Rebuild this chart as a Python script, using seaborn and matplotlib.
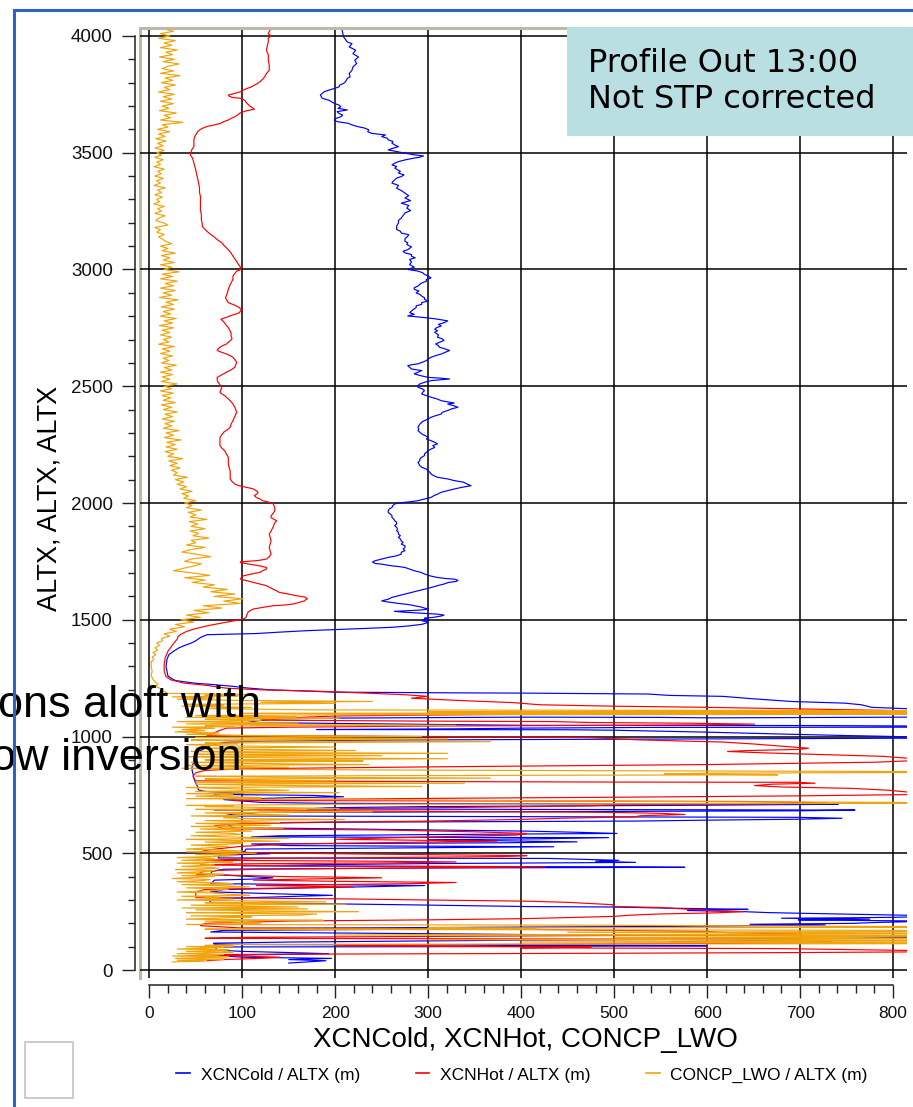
import numpy as np
import pandas as pd
import seaborn as sns
import matplotlib
matplotlib.use("Agg")
import matplotlib.pyplot as plt
from matplotlib.lines import Line2D
from matplotlib.patches import Rectangle
from matplotlib.ticker import MultipleLocator

# ---------------- data (altitude m, value) ----------------
cold_upper = [(4031,207),(3996,209),(3974,213),(3967,218),(3953,215),(3939,222),(3924,219),(3910,225),(3896,221),(3882,223),(3867,219),(3853,218),(3839,215),(3825,216),(3818,213),(3804,211),(3797,209),(3790,205),(3782,204),(3775,199),(3768,193),(3761,188),(3754,186),(3747,184),(3740,185),(3733,186),(3725,193),(3718,196),(3711,199),(3704,204),(3697,206),(3690,203),(3683,213),(3676,202),(3668,204),(3661,208),(3654,206),(3647,201),(3640,199),(3633,202),(3626,214),(3619,218),(3612,224),(3605,232),(3598,236),(3590,235),(3583,239),(3576,254),(3569,250),(3562,256),(3555,257),(3548,262),(3541,261),(3533,264),(3526,268),(3519,262),(3512,257),(3505,266),(3498,275),(3491,285),(3486,295),(3480,290),(3477,285),(3469,275),(3462,268),(3455,264),(3448,261),(3441,266),(3434,264),(3420,270),(3413,268),(3405,274),(3398,271),(3391,266),(3384,264),(3377,262),(3370,261),(3360,268),(3348,266),(3338,271),(3327,275),(3316,279),(3306,275),(3295,281),(3284,271),(3274,279),(3263,277),(3252,281),(3242,275),(3231,273),(3220,271),(3210,268),(3199,268),(3185,266),(3171,266),(3164,270),(3156,271),(3149,279),(3142,278),(3132,275),(3121,275),(3114,278),(3107,277),(3096,282),(3085,278),(3078,273),(3071,275),(3064,282),(3057,282),(3050,286),(3043,280),(3032,282),(3021,280),(3010,285),(3000,278),(2993,289),(2986,294),(2979,296),(2972,300),(2964,303),(2957,298),(2950,298),(2940,292),(2929,289),(2922,285),(2915,285),(2908,290),(2900,287),(2893,291),(2886,293),(2879,296),(2872,296),(2865,300),(2858,293),(2851,293),(2844,287),(2836,287),(2829,284),(2822,282),(2815,280),(2808,285),(2801,278),(2794,296),(2789,307),(2787,310),(2780,321),(2772,317),(2765,311),(2758,314),(2751,309),(2744,307),(2738,310),(2731,307),(2720,311),(2710,310),(2703,315),(2696,317),(2688,312),(2681,308),(2674,311),(2667,312),(2660,318),(2653,323),(2645,318),(2638,314),(2631,308),(2624,303),(2617,300),(2610,298),(2603,294),(2596,289),(2592,282),(2588,278),(2581,280),(2574,282),(2570,288),(2567,293),(2560,289),(2553,285),(2545,292),(2538,300),(2534,315),(2531,323),(2527,312),(2524,303),(2517,296),(2510,291),(2503,289),(2496,289),(2488,294),(2481,296),(2474,294),(2467,293),(2460,298),(2453,303),(2445,310),(2438,314),(2431,324),(2428,328),(2424,321),(2417,327),(2410,332),(2403,325),(2396,321),(2388,315),(2381,314),(2374,308),(2367,303),(2360,300),(2353,296),(2346,293),(2338,291),(2331,290),(2324,289),(2317,290),(2310,289),(2303,291),(2296,293),(2288,297),(2281,300),(2274,298),(2267,303),(2260,307),(2253,310),(2246,305),(2238,307),(2231,303),(2224,300),(2217,298),(2210,296),(2203,296),(2196,293),(2188,291),(2181,291),(2174,289),(2167,290),(2160,291),(2153,293),(2145,298),(2138,300),(2131,302),(2124,303),(2117,306),(2110,310),(2103,321),(2096,328),(2089,338),(2081,342),(2074,346),(2067,336),(2060,328),(2053,321),(2046,314),(2038,310),(2031,306),(2024,303),(2017,296),(2010,289),(2006,282),(2003,275),(2000,268),(1996,264),(1989,262),(1981,261),(1974,258),(1967,257),(1960,257),(1953,259),(1946,261),(1938,261),(1931,263),(1924,264),(1917,266),(1910,266),(1903,264),(1896,266),(1888,267),(1881,266),(1874,268),(1867,268),(1860,270),(1853,268),(1846,270),(1838,271),(1831,273),(1824,271),(1817,275),(1810,275),(1803,273),(1796,275),(1789,271),(1781,271),(1774,266),(1767,257),(1760,250),(1753,243),(1747,240),(1741,243),(1738,250),(1735,255),(1731,261),(1728,268),(1724,275),(1717,280),(1710,285),(1703,292),(1696,296),(1688,302),(1681,310),(1677,318),(1674,328),(1669,332),(1664,330),(1660,322),(1653,317),(1646,310),(1638,303),(1631,296),(1624,289),(1617,282),(1610,275),(1603,268),(1596,261),(1588,257),(1581,250),(1577,255),(1574,261),(1570,268),(1567,275),(1563,282),(1560,285),(1556,291),(1550,296),(1546,300),(1543,295),(1541,289),(1538,275),(1536,264),(1533,272),(1530,285),(1527,300),(1524,310),(1520,317),(1516,314),(1510,305),(1507,296),(1503,298),(1500,296),(1496,293),(1492,298),(1488,300),(1484,296),(1481,294),(1474,280),(1468,262),(1464,239),(1458,200),(1453,168),(1447,140),(1441,115),(1436,62),(1424,55)]

cold_lower = [(1410,50),(1400,45),(1390,38),(1380,32),(1365,26),(1350,21),(1330,19),(1300,18),(1280,19),(1260,20),(1248,24),(1240,28),(1233,40),(1228,50),(1222,70),(1215,90),(1208,105),(1200,130),(1196,160),(1190,200),(1187,330),(1186,400),(1182,536),(1176,560),(1172,617),(1162,648),(1150,691),(1143,748),(1136,766),(1125,777),(1119,813),(1117,830),(1110,830),(1083,816),(1081,664),(1080,606),(1082,547),(1083,428),(1083,399),(1079,204),(1075,133),(1070,120),(1060,105),(1048,400),(1047,711),(1045,830),(1040,816),(1039,532),(1036,400),(1033,330),(1030,180),(1029,450),(1027,500),(1019,597),(1010,687),(1004,752),(1000,804),(993,830),(990,600),(985,250),(980,120),(975,80),(971,76),(964,67),(950,60),(930,51),(910,48),(893,48),(870,46),(857,46),(840,47),(821,48),(800,50),(785,52),(771,53),(765,60),(757,101),(752,70),(748,176),(742,209),(738,150),(730,80),(718,120),(714,190),(711,558),(710,741),(706,600),(700,300),(695,190),(690,170),(686,612),(685,759),(682,700),(678,400),(675,117),(671,108),(668,90),(660,80),(654,698),(650,745),(646,700),(642,601),(638,525),(633,200),(628,101),(620,85),(610,90),(595,406),(590,460),(585,503),(580,300),(575,140),(570,110),(567,494),(562,420),(558,300),(549,460),(545,380),(540,110),(533,150),(528,435),(524,300),(518,104),(510,103),(505,100),(498,130),(492,76),(480,74),(478,430),(470,505),(466,480),(461,523),(456,300),(452,200),(446,100),(442,514),(440,576),(437,300),(432,80),(425,71),(421,67),(410,66),(395,133),(390,115),(385,70),(370,66),(362,296),(358,250),(352,170),(345,80),(335,66),(325,150),(320,197),(316,160),(305,66),(290,65),(280,268),(272,406),(270,498),(265,560),(260,644),(258,600),(255,579),(250,640),(246,666),(242,716),(235,816),(233,830),(228,830),(226,802),(224,756),(222,680),(218,775),(215,698),(213,745),(210,830),(207,816),(204,784),(200,756),(196,646),(193,727),(190,648),(187,563),(184,400),(181,250),(178,100),(177,415),(175,300),(170,80),(163,66),(150,475),(149,639),(146,784),(144,830),(140,816),(136,749),(132,600),(128,400),(120,150),(115,69),(110,70),(106,399),(106,478),(104,599),(100,300),(99,71),(90,72),(85,73),(80,100),(75,150),(70,193),(66,120),(62,75),(55,100),(50,196),(45,150),(40,190),(35,170),(30,150)]

hot_upper = [(4031,131),(4020,129),(4010,128),(4000,131),(3990,128),(3974,128),(3960,127),(3939,126),(3920,128),(3896,128),(3875,129),(3853,129),(3839,126),(3825,124),(3815,122),(3804,119),(3795,116),(3789,113),(3782,110),(3775,105),(3768,101),(3761,98),(3754,92),(3747,85),(3742,86),(3737,89),(3733,98),(3728,101),(3723,103),(3717,104),(3711,105),(3705,107),(3700,108),(3693,111),(3686,113),(3680,105),(3671,98),(3662,95),(3654,92),(3647,88),(3640,85),(3633,80),(3626,77),(3619,70),(3612,62),(3606,58),(3600,55),(3590,52),(3583,51),(3570,49),(3555,48),(3540,48),(3526,48),(3515,46),(3505,45),(3491,44),(3480,46),(3470,47),(3455,48),(3440,49),(3425,50),(3405,51),(3390,52),(3370,53),(3350,54),(3330,54),(3313,55),(3290,55),(3270,55),(3256,55),(3235,56),(3213,56),(3195,57),(3185,57),(3175,59),(3164,62),(3153,65),(3142,69),(3128,73),(3114,78),(3100,81),(3085,85),(3070,88),(3057,90),(3040,93),(3021,96),(3010,98),(3003,99),(2997,97),(2993,94),(2983,92),(2972,90),(2960,90),(2950,89),(2935,87),(2915,85),(2900,84),(2890,83),(2879,82),(2870,83),(2858,85),(2850,90),(2843,94),(2836,97),(2829,99),(2822,98),(2815,97),(2808,92),(2801,87),(2794,82),(2787,77),(2776,80),(2765,82),(2751,85),(2737,87),(2725,88),(2715,88),(2703,89),(2695,87),(2688,85),(2681,83),(2674,79),(2667,76),(2660,74),(2653,73),(2645,78),(2638,83),(2631,87),(2624,90),(2614,92),(2603,94),(2592,93),(2581,92),(2570,88),(2560,83),(2549,78),(2538,73),(2528,73),(2517,74),(2506,76),(2496,78),(2485,77),(2474,76),(2467,78),(2460,81),(2449,84),(2438,87),(2424,90),(2410,92),(2399,93),(2388,94),(2370,92),(2353,90),(2338,88),(2324,87),(2314,84),(2303,80),(2292,78),(2281,76),(2265,76),(2246,76),(2235,78),(2224,81),(2210,83),(2196,85),(2180,85),(2167,85),(2150,86),(2138,87),(2120,87),(2103,87),(2092,89),(2081,92),(2075,96),(2070,101),(2065,107),(2060,112),(2053,115),(2046,117),(2040,116),(2032,113),(2024,115),(2017,119),(2010,122),(2004,128),(1998,133),(1990,134),(1980,135),(1967,135),(1955,133),(1945,131),(1938,131),(1930,134),(1924,137),(1915,135),(1905,134),(1896,133),(1880,131),(1867,129),(1852,130),(1838,131),(1824,130),(1810,129),(1795,130),(1781,131),(1770,129),(1760,126),(1755,119),(1752,112),(1750,105),(1748,98),(1745,98),(1740,105),(1735,112),(1731,119),(1724,126),(1717,126),(1710,122),(1703,119),(1696,110),(1688,101),(1681,99),(1674,98),(1667,105),(1660,112),(1653,119),(1646,126),(1638,130),(1631,133),(1624,137),(1617,140),(1610,150),(1603,158),(1599,165),(1596,168),(1590,170),(1585,168),(1581,167),(1574,161),(1567,154),(1563,145),(1560,133),(1553,122),(1546,112),(1538,108),(1531,106),(1520,105),(1510,104),(1503,101),(1495,90),(1488,80),(1480,70),(1474,62),(1467,55),(1460,48),(1450,40),(1438,34),(1428,31),(1417,30)]

hot_lower = [(1393,25),(1365,20),(1336,17),(1308,16),(1279,16),(1257,18),(1243,23),(1236,30),(1229,37),(1224,50),(1219,62),(1213,72),(1207,83),(1200,120),(1193,190),(1185,240),(1179,275),(1172,300),(1164,282),(1155,330),(1145,392),(1136,420),(1130,500),(1125,600),(1118,700),(1112,790),(1108,830),(1104,816),(1100,650),(1096,411),(1092,300),(1088,200),(1080,150),(1070,120),(1066,300),(1064,435),(1060,475),(1057,582),(1053,651),(1050,600),(1047,450),(1045,300),(1040,150),(1036,83),(1025,75),(1014,69),(1005,62),(1000,300),(998,413),(995,475),(986,525),(976,619),(968,650),(953,698),(950,709),(945,700),(940,644),(936,622),(930,662),(922,730),(915,790),(907,816),(905,830),(898,830),(890,780),(880,600),(870,300),(862,100),(855,60),(845,50),(830,47),(821,48),(810,50),(805,500),(804,698),(800,716),(796,670),(790,651),(784,679),(778,756),(770,795),(762,816),(757,830),(752,830),(746,700),(740,500),(735,300),(730,150),(726,90),(724,400),(722,633),(720,672),(716,730),(712,672),(708,500),(704,478),(700,414),(695,300),(690,150),(685,70),(680,300),(676,471),(674,514),(671,550),(666,576),(661,529),(656,521),(650,442),(645,399),(638,300),(632,150),(625,90),(618,70),(605,80),(600,250),(592,350),(585,406),(578,395),(570,300),(560,200),(552,374),(548,300),(540,150),(530,100),(520,75),(512,60),(506,55),(498,200),(494,300),(490,406),(486,380),(482,260),(478,120),(470,60),(466,250),(463,330),(459,260),(455,100),(450,55),(445,200),(442,426),(438,300),(432,120),(425,60),(410,51),(400,150),(398,204),(395,250),(390,170),(385,112),(380,200),(375,330),(370,280),(362,115),(356,220),(350,120),(345,60),(335,50),(310,50),(305,204),(300,300),(295,406),(290,450),(280,498),(272,500),(268,550),(262,572),(256,601),(250,639),(245,610),(240,547),(235,518),(230,500),(225,453),(220,400),(215,300),(210,150),(200,60),(190,55),(180,100),(175,400),(170,495),(168,547),(165,600),(160,624),(156,696),(152,650),(148,500),(144,300),(140,100),(136,60),(132,590),(130,698),(126,650),(122,561),(120,734),(116,700),(112,500),(108,300),(104,200),(100,399),(98,475),(95,400),(92,676),(88,750),(84,816),(82,830),(78,830),(75,700),(72,500),(70,300),(68,140),(66,62),(60,100),(55,140),(50,120),(45,80),(40,62)]

lwo_upper = [(4030,15),(4020,26),(4010,12),(4000,22),(3990,10),(3980,28),(3970,16),(3960,24),(3950,12),(3940,30),(3930,18),(3920,25),(3910,11),(3900,27),(3890,15),(3880,32),(3870,20),(3860,14),(3850,26),(3840,12),(3830,33),(3820,17),(3810,25),(3800,13),(3790,28),(3780,16),(3770,22),(3760,10),(3750,27),(3740,15),(3730,24),(3720,12),(3710,26),(3700,14),(3690,21),(3680,11),(3670,29),(3660,16),(3650,23),(3640,12),(3630,36),(3620,14),(3610,20),(3600,9),(3590,22),(3580,10),(3570,17),(3560,7),(3550,18),(3540,9),(3530,15),(3520,6),(3510,16),(3500,8),(3490,13),(3480,6),(3470,15),(3460,8),(3450,12),(3440,5),(3430,16),(3420,9),(3410,13),(3400,6),(3390,15),(3380,8),(3370,12),(3360,5),(3350,17),(3340,9),(3330,13),(3320,6),(3310,14),(3300,8),(3290,11),(3280,5),(3270,16),(3260,9),(3250,13),(3240,6),(3230,17),(3220,10),(3210,7),(3200,15),(3190,20),(3180,6),(3170,12),(3160,8),(3150,16),(3140,10),(3130,14),(3120,18),(3110,24),(3100,12),(3090,20),(3080,14),(3070,28),(3060,13),(3050,22),(3040,15),(3030,27),(3020,12),(3010,24),(3000,16),(2990,32),(2980,14),(2970,25),(2960,12),(2950,30),(2940,17),(2930,26),(2920,12),(2910,28),(2900,15),(2890,24),(2880,11),(2870,31),(2860,18),(2850,26),(2840,13),(2830,27),(2820,15),(2810,23),(2800,12),(2790,29),(2780,16),(2770,25),(2760,11),(2750,26),(2740,14),(2730,22),(2720,12),(2710,24),(2700,15),(2690,21),(2680,10),(2670,27),(2660,14),(2650,22),(2640,12),(2630,25),(2620,15),(2610,21),(2600,13),(2590,29),(2580,16),(2570,24),(2560,12),(2550,25),(2540,14),(2530,22),(2520,13),(2510,30),(2500,16),(2490,24),(2480,12),(2470,26),(2460,14),(2450,23),(2440,15),(2430,28),(2420,13),(2410,24),(2400,15),(2390,30),(2380,17),(2370,25),(2360,14),(2350,27),(2340,17),(2330,24),(2320,15),(2310,32),(2300,18),(2290,26),(2280,16),(2270,34),(2260,19),(2250,28),(2240,18),(2230,30),(2220,17),(2210,26),(2200,20),(2190,36),(2180,21),(2170,30),(2160,22),(2150,33),(2140,24),(2130,30),(2120,26),(2110,41),(2100,28),(2090,37),(2080,30),(2070,40),(2060,33),(2050,46),(2040,35),(2030,42),(2020,37),(2010,50),(2000,38),(1990,46),(1980,40),(1970,56),(1960,42),(1950,50),(1940,44),(1930,62),(1920,43),(1910,52),(1900,45),(1890,60),(1880,44),(1870,53),(1860,47),(1850,64),(1840,45),(1830,50),(1820,40),(1810,60),(1800,44),(1790,35),(1780,52),(1770,66),(1760,45),(1750,38),(1740,56),(1730,48),(1720,36),(1710,26),(1700,48),(1690,65),(1680,38),(1670,60),(1660,46),(1650,70),(1640,58),(1630,84),(1620,66),(1610,92),(1600,70),(1590,101),(1580,80),(1570,98),(1560,58),(1550,78),(1540,48),(1530,64),(1520,40),(1510,55),(1500,34),(1490,48),(1480,28),(1470,38),(1460,22),(1450,29),(1440,16),(1430,22),(1420,13),(1410,14),(1400,8),(1390,11),(1380,6),(1370,9),(1360,4),(1350,7),(1340,3),(1330,5),(1320,2),(1300,2),(1280,3),(1260,2),(1245,4),(1235,6),(1225,9),(1215,7),(1205,12),(1195,15)]

lwo_lower = [(1185,20),(1180,108),(1177,60),(1174,95),(1170,25),(1165,70),(1160,30),(1155,90),(1150,240),(1147,120),(1142,200),(1138,40),(1134,80),(1130,35),(1125,110),(1120,60),(1114,180),(1111,830),(1109,830),(1106,300),(1104,830),(1102,830),(1099,100),(1097,830),(1095,830),(1093,200),(1090,50),(1087,90),(1085,158),(1082,40),(1078,204),(1074,60),(1071,100),(1068,120),(1064,30),(1061,80),(1058,160),(1054,40),(1051,120),(1048,330),(1045,60),(1042,90),(1040,25),(1035,70),(1030,35),(1025,60),(1020,28),(1015,75),(1010,40),(1005,90),(1000,293),(996,50),(993,110),(990,321),(985,45),(981,100),(978,367),(972,60),(968,95),(965,40),(960,80),(955,200),(950,50),(945,100),(940,222),(936,45),(932,90),(928,321),(924,50),(921,110),(918,250),(914,40),(910,85),(905,321),(900,60),(897,120),(895,230),(890,45),(885,100),(880,236),(876,40),(872,90),(868,150),(864,35),(860,80),(856,300),(853,540),(850,830),(846,816),(843,600),(840,554),(836,676),(834,400),(830,50),(826,120),(822,367),(818,60),(814,110),(810,200),(806,50),(803,100),(800,339),(796,50),(791,120),(786,293),(782,40),(776,90),(770,150),(765,50),(762,110),(760,204),(756,40),(753,80),(750,90),(745,50),(741,100),(738,120),(734,40),(731,140),(728,300),(724,457),(721,600),(718,802),(716,830),(714,816),(712,500),(710,200),(707,100),(705,40),(702,90),(700,60),(696,130),(692,204),(688,50),(685,100),(682,120),(678,240),(673,60),(668,110),(664,150),(660,45),(656,95),(652,80),(648,120),(645,210),(640,60),(636,100),(632,140),(628,50),(624,90),(620,130),(615,45),(611,95),(608,144),(604,55),(600,85),(595,110),(590,50),(585,90),(580,100),(575,45),(569,95),(564,150),(560,40),(556,80),(552,140),(548,60),(544,100),(540,90),(535,45),(530,85),(525,70),(518,40),(514,75),(510,100),(506,40),(503,80),(500,115),(495,50),(491,95),(488,85),(482,30),(479,65),(476,70),(470,35),(466,75),(462,90),(458,30),(454,60),(450,70),(444,35),(440,65),(436,75),(430,28),(426,70),(422,60),(416,30),(413,65),(410,80),(404,35),(401,70),(398,55),(392,25),(388,65),(384,60),(378,30),(374,75),(370,90),(366,35),(361,80),(356,108),(352,40),(346,85),(340,70),(334,30),(330,70),(326,80),(320,108),(316,35),(312,75),(308,60),(304,90),(300,30),(296,110),(292,190),(288,60),(285,120),(282,211),(278,45),(274,90),(270,160),(266,35),(262,170),(258,50),(254,110),(250,225),(246,40),(243,100),(240,180),(235,160),(232,45),(228,110),(225,90),(218,40),(215,120),(213,187),(210,60),(205,90),(200,120),(195,40),(192,495),(190,590),(186,830),(183,830),(180,300),(177,415),(175,60),(170,800),(168,830),(165,830),(162,450),(158,830),(155,830),(150,200),(148,830),(145,830),(140,500),(137,830),(134,830),(130,300),(127,830),(124,830),(120,400),(117,830),(113,830),(110,100),(106,60),(103,90),(100,40),(97,80),(95,70),(90,30),(87,85),(85,80),(80,40),(77,90),(75,76),(70,30),(67,80),(65,75),(60,25),(57,85),(55,70),(50,28),(47,80),(45,76),(42,30),(38,60),(35,25)]

series_names = ["XCNCold / ALTX (m)", "XCNHot / ALTX (m)", "CONCP_LWO / ALTX (m)"]
series_colors = ["#0000ff", "#ff0000", "#f0a30a"]
x_ticks = [0, 100, 200, 300, 400, 500, 600, 700, 800]
y_ticks = [0, 500, 1000, 1500, 2000, 2500, 3000, 3500, 4000]

# ---------------- build table ----------------
frames = []
for name, parts in zip(series_names, [(cold_upper, cold_lower), (hot_upper, hot_lower), (lwo_upper, lwo_lower)]):
    pts = parts[0] + parts[1]
    df = pd.DataFrame(pts, columns=["alt", "value"])
    df["series"] = name
    frames.append(df)
data = pd.concat(frames, ignore_index=True)

# ---------------- figure ----------------
W, H = 913, 1107
fig = plt.figure(figsize=(W / 100, H / 100), dpi=100, facecolor="white")

def fx(px):
    return px / W

def fy(py):
    return 1 - py / H

ax_left, ax_right, ax_top, ax_bottom = 140, 907, 28, 978
ax = fig.add_axes([fx(ax_left), fy(ax_bottom), (ax_right - ax_left) / W, (ax_bottom - ax_top) / H])
ax.set_facecolor("white")

sns.lineplot(data=data, x="value", y="alt", hue="series", hue_order=series_names,
             palette=series_colors, sort=False, estimator=None, units="series",
             linewidth=0.85, legend=False, ax=ax)

ax.set_xlim(-10, 815)
ax.set_ylim(-34, 4034)
ax.xaxis.set_minor_locator(MultipleLocator(20))
ax.yaxis.set_minor_locator(MultipleLocator(100))
ax.set_xticks(x_ticks)
ax.set_yticks(y_ticks)
ax.set_xticklabels([str(v) for v in x_ticks])
ax.set_yticklabels([str(v) for v in y_ticks])
ax.grid(True, which="major", color="black", linewidth=1.1)
ax.set_axisbelow(True)
ax.set_xlabel("")
ax.set_ylabel("")

# spines: separate outward axes
ax.spines["right"].set_visible(False)
ax.spines["top"].set_color("#bdb9aa")
ax.spines["top"].set_linewidth(2.2)
ax.spines["left"].set_position(("outward", 3.6))
ax.spines["left"].set_bounds(0, 4000)
ax.spines["left"].set_color("#222222")
ax.spines["left"].set_linewidth(1.1)
ax.spines["bottom"].set_position(("outward", 5.0))
ax.spines["bottom"].set_bounds(0, 800)
ax.spines["bottom"].set_color("#222222")
ax.spines["bottom"].set_linewidth(1.1)
ax.add_line(Line2D([0, 0], [0, 1], transform=ax.transAxes, color="#bdb9aa",
                   linewidth=2.2, clip_on=False, zorder=0.5))

tick_font = ["Liberation Sans", "DejaVu Sans"]
ax.tick_params(axis="y", which="major", direction="out", length=9.4, width=1.0,
               pad=6.5, labelsize=13.5, colors="#222222")
ax.tick_params(axis="y", which="minor", direction="out", length=5.0, width=1.0, colors="#222222")
ax.tick_params(axis="x", which="major", direction="out", length=9.4, width=1.0,
               pad=5.5, labelsize=12.5, colors="#222222")
ax.tick_params(axis="x", which="minor", direction="out", length=6.0, width=1.0, colors="#222222")
for lab in ax.get_xticklabels() + ax.get_yticklabels():
    lab.set_family(tick_font)
    lab.set_color("#111111")

# axis titles
fig.text(fx(50), fy(498), "ALTX, ALTX, ALTX", rotation=90, ha="center", va="center",
         fontsize=19.5, family=["Liberation Sans", "DejaVu Sans"], color="black")
fig.text(fx(525), fy(1040), "XCNCold, XCNHot, CONCP_LWO", ha="center", va="center",
         fontsize=20, family=["Liberation Sans", "DejaVu Sans"], color="black")

# legend
handles = [Line2D([], [], color=c, linewidth=1.2) for c in series_colors]
fig.legend(handles, series_names, loc="center", bbox_to_anchor=(fx(522), fy(1075)),
           ncol=3, frameon=False, handlelength=0.8, handletextpad=0.6, columnspacing=3.2,
           prop={"family": ["Liberation Sans", "DejaVu Sans"], "size": 12.5})

# annotation box (top right)
fig.add_artist(Rectangle((fx(567), fy(136)), (W - 567) / W, (136 - 27) / H,
                         transform=fig.transFigure, facecolor="#b9dfe3", edgecolor="none", zorder=5))
fig.text(fx(588), fy(72), "Profile Out 13:00", ha="left", va="baseline", fontsize=23,
         family=["DejaVu Sans"], color="black", zorder=6)
fig.text(fx(588), fy(108), "Not STP corrected", ha="left", va="baseline", fontsize=23,
         family=["DejaVu Sans"], color="black", zorder=6)

# overlapping slide text on the left
fig.text(fx(-2), fy(717), "ons aloft with", ha="left", va="baseline", fontsize=32.5,
         family=["Liberation Sans", "DejaVu Sans"], color="black", zorder=7)
fig.text(fx(-9), fy(770), "ow inversion", ha="left", va="baseline", fontsize=32.5,
         family=["Liberation Sans", "DejaVu Sans"], color="black", zorder=7)

# slide frame pieces
fig.add_artist(Line2D([fx(14), fx(14)], [fy(10), 0], transform=fig.transFigure,
                      color="#2b63c6", linewidth=2.2, zorder=8))
fig.add_artist(Line2D([fx(14), 1], [fy(10), fy(10)], transform=fig.transFigure,
                      color="#2b63c6", linewidth=2.2, zorder=8))
fig.add_artist(Rectangle((fx(25), fy(1098)), 48 / W, 56 / H, transform=fig.transFigure,
                         facecolor="white", edgecolor="#c4c4c4", linewidth=1.2, zorder=4))

fig.savefig("out.png", dpi=100, facecolor="white")
